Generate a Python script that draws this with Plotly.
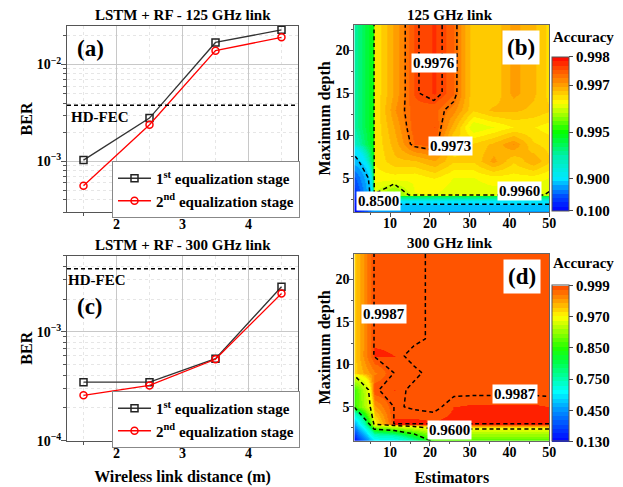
import numpy as np
import plotly.graph_objects as go

W, H = 623, 487
FONT = "Liberation Serif"

# ---------------- data: BER panels (a) and (c) ----------------
distance_m = [1.5, 2.5, 3.5, 4.5]
ber_125_stage1 = [1.03e-3, 2.80e-3, 1.69e-2, 2.28e-2]
ber_125_stage2 = [5.6e-4, 2.39e-3, 1.39e-2, 1.91e-2]
ber_300_stage1 = [3.45e-4, 3.45e-4, 5.67e-4, 2.59e-3]
ber_300_stage2 = [2.61e-4, 3.22e-4, 5.60e-4, 2.25e-3]
hd_fec = 3.8e-3
series_names = ["1<sup>st</sup> equalization stage", "2<sup>nd</sup> equalization stage"]
dist_ticks = [2, 3, 4]
ber_125_ticks = [1e-3, 1e-2]
ber_125_ticktext = ["10<sup>\u22123</sup>", "10<sup>\u22122</sup>"]
ber_300_ticks = [1e-4, 1e-3]
ber_300_ticktext = ["10<sup>\u22124</sup>", "10<sup>\u22123</sup>"]

# ---------------- data: accuracy maps (b) and (d) ----------------
estimators = [1, 6, 11, 16, 21, 26, 31, 36, 41, 46, 50]
max_depth = [1, 3, 5, 7, 9, 11, 13, 15, 17, 19, 21, 23]

acc_125 = [
    [0.100, 0.730, 0.730, 0.730, 0.730, 0.730, 0.730, 0.730, 0.730, 0.730, 0.730],
    [0.300, 0.99598, 0.99544, 0.9962, 0.9962, 0.9961, 0.9961, 0.9961, 0.9961, 0.9961, 0.99595],
    [0.500, 0.9963, 0.9963, 0.99625, 0.9964, 0.9962, 0.9962, 0.9963, 0.9963, 0.9963, 0.9962],
    [0.807, 0.9964, 0.9967, 0.99673, 0.99693, 0.9966, 0.9966, 0.9970, 0.9966, 0.9969, 0.9966],
    [0.930, 0.9964, 0.99684, 0.9974, 0.9975, 0.9965, 0.9966, 0.9968, 0.9971, 0.9966, 0.9965],
    [0.948, 0.9964, 0.99695, 0.9975, 0.99755, 0.99686, 0.99603, 0.9962, 0.9964, 0.9964, 0.9963],
    [0.948, 0.9964, 0.99708, 0.9975, 0.99745, 0.99717, 0.9966, 0.9968, 0.9968, 0.9967, 0.9966],
    [0.948, 0.9964, 0.99697, 0.99756, 0.99772, 0.99743, 0.9966, 0.9966, 0.9970, 0.9968, 0.9965],
    [0.948, 0.9964, 0.99697, 0.99756, 0.99772, 0.99743, 0.9966, 0.9966, 0.9970, 0.9968, 0.9965],
    [0.948, 0.9964, 0.99697, 0.99756, 0.99772, 0.99743, 0.9966, 0.9966, 0.9970, 0.9968, 0.9965],
    [0.948, 0.9964, 0.99697, 0.99756, 0.99772, 0.99743, 0.9966, 0.9966, 0.9970, 0.9968, 0.9965],
    [0.948, 0.9964, 0.99697, 0.99756, 0.99772, 0.99743, 0.9966, 0.9966, 0.9970, 0.9968, 0.9965],
]

acc_300 = [
    [0.130, 0.600, 0.626, 0.750, 0.870, 0.870, 0.870, 0.870, 0.870, 0.870, 0.870],
    [0.500, 0.970, 0.9991, 0.9992, 0.9991, 0.9992, 0.9992, 0.9992, 0.9992, 0.9992, 0.9992],
    [0.860, 0.985, 0.9988, 0.9986, 0.9985, 0.9990, 0.9991, 0.9991, 0.9991, 0.9991, 0.9990],
    [0.864, 0.9986, 0.9990, 0.9985, 0.9985, 0.9985, 0.9985, 0.9985, 0.9985, 0.9985, 0.9985],
    [0.977, 0.990, 0.99875, 0.9989, 0.9984, 0.9985, 0.9985, 0.9985, 0.9985, 0.9985, 0.9985],
    [0.977, 0.9991, 0.9990, 0.9984, 0.9985, 0.9985, 0.9985, 0.9985, 0.9985, 0.9985, 0.9985],
    [0.977, 0.9989, 0.9989, 0.9989, 0.99855, 0.9986, 0.9985, 0.9985, 0.9985, 0.9985, 0.9985],
    [0.977, 0.9989, 0.9989, 0.9989, 0.99855, 0.9986, 0.9985, 0.9985, 0.9985, 0.9985, 0.9985],
    [0.977, 0.9989, 0.9989, 0.9989, 0.99855, 0.9986, 0.9985, 0.9985, 0.9985, 0.9985, 0.9985],
    [0.977, 0.9989, 0.9989, 0.9989, 0.99855, 0.9986, 0.9985, 0.9985, 0.9985, 0.9985, 0.9985],
    [0.977, 0.9989, 0.9989, 0.9989, 0.99855, 0.9986, 0.9985, 0.9985, 0.9985, 0.9985, 0.9985],
    [0.977, 0.9989, 0.9989, 0.9989, 0.99855, 0.9986, 0.9985, 0.9985, 0.9985, 0.9985, 0.9985],
]

levels_125 = [0.8500, 0.9960, 0.9973, 0.9976]
levels_300 = [0.8500, 0.9600, 0.9987]
cbar_125_values = [0.100, 0.900, 0.995, 0.997, 0.998]
cbar_125_labels = ["0.100", "0.900", "0.995", "0.997", "0.998"]
cbar_300_values = [0.130, 0.450, 0.750, 0.850, 0.970, 0.999]
cbar_300_labels = ["0.130", "0.450", "0.750", "0.850", "0.970", "0.999"]
depth_ticks = [5, 10, 15, 20]
est_ticks = [10, 20, 30, 40, 50]

# contour label placements (level, estimators, depth)
labels_125 = [(0.9976, 21.0, 18.5), (0.9973, 25.2, 8.75), (0.9960, 42.4, 3.47), (0.8500, 7.1, 2.35)]
labels_300 = [(0.9987, 8.5, 15.9), (0.9987, 41.4, 6.47), (0.9600, 24.8, 2.29)]

# ---------------- styling: nonlinear colour bars ----------------
cbar_125_pos = [0.0, 0.206, 0.51, 0.815, 1.0]
cbar_300_pos = [0.0, 0.2, 0.4, 0.6, 0.8, 1.0]
pal_125 = [(0, "#0000ff"), (0.1, "#0050ff"), (0.21, "#00e8ff"), (0.35, "#00f0b0"), (0.51, "#00ff00"),
           (0.6, "#80ff00"), (0.7, "#ffff00"), (0.815, "#ffa000"), (0.92, "#ff5000"), (1.0, "#ff0000")]
pal_300 = [(0, "#0000ff"), (0.2, "#0090ff"), (0.32, "#00ffff"), (0.4, "#00ffb0"), (0.52, "#00ff40"),
           (0.6, "#20ff00"), (0.8, "#ffff00"), (0.9, "#ffa000"), (1.0, "#ff4800")]
above_300 = "#ff2000"
NB = 36


def hex2rgb(h):
    h = h.lstrip("#")
    return np.array([int(h[i:i + 2], 16) for i in (0, 2, 4)], dtype=float)


def pal_at(pal, f):
    ps = [p for p, _ in pal]
    cs = [hex2rgb(c) for _, c in pal]
    f = min(max(f, 0.0), 1.0)
    for i in range(len(ps) - 1):
        if ps[i] <= f <= ps[i + 1]:
            t = 0 if ps[i + 1] == ps[i] else (f - ps[i]) / (ps[i + 1] - ps[i])
            c = cs[i] + t * (cs[i + 1] - cs[i])
            return "rgb(%d,%d,%d)" % tuple(np.round(c))
    return "rgb(%d,%d,%d)" % tuple(cs[-1])


def frac_scale(pal):
    sc = []
    for k in range(NB):
        col = pal_at(pal, (k + 0.5) / NB)
        sc.append([k / NB, col])
        sc.append([(k + 1) / NB, col])
    return sc


def value_scale(pal, vals, pos, zmin, zmax, above=None):
    sc = []
    for k in range(NB):
        col = pal_at(pal, (k + 0.5) / NB)
        v0 = np.interp(k / NB, pos, vals)
        v1 = np.interp((k + 1) / NB, pos, vals)
        sc.append([float((v0 - zmin) / (zmax - zmin)), col])
        sc.append([float((v1 - zmin) / (zmax - zmin)), col])
    if above:
        sc.append([sc[-1][0], above])
        sc.append([1.0, above])
    sc[0][0] = 0.0
    sc[-1][0] = 1.0
    for i in range(1, len(sc)):
        sc[i][0] = min(max(sc[i][0], sc[i - 1][0]), 1.0)
    return sc


def px(x):
    return x / W


def py(y):
    return 1 - y / H


fig = go.Figure()

# ---------------- panels (a) and (c) ----------------
for (s1, s2, xa, ya, leg) in [(ber_125_stage1, ber_125_stage2, "x", "y", "legend"),
                              (ber_300_stage1, ber_300_stage2, "x3", "y3", "legend2")]:
    fig.add_trace(go.Scatter(x=distance_m, y=s1, mode="lines+markers", name=series_names[0],
                             xaxis=xa, yaxis=ya, legend=leg,
                             line=dict(color="#333333", width=1.3),
                             marker=dict(symbol="square-open", size=7, color="#222222", line=dict(width=1.5))))
    fig.add_trace(go.Scatter(x=distance_m, y=s2, mode="lines+markers", name=series_names[1],
                             xaxis=xa, yaxis=ya, legend=leg,
                             line=dict(color="#ff0000", width=1.3),
                             marker=dict(symbol="circle-open", size=7, color="#ff0000", line=dict(width=1.5))))

dist_range = [1.25, 4.75]
for xa, ya in [("x", "y"), ("x3", "y3")]:
    fig.add_trace(go.Scatter(x=dist_range, y=[hd_fec, hd_fec], mode="lines", xaxis=xa, yaxis=ya,
                             showlegend=False, hoverinfo="skip",
                             line=dict(color="black", width=1.5, dash="4px,3px")))

# ---------------- panels (b) and (d) ----------------
for (acc, levels, vals, pos, pal, above, xa, ya, cb_labels, cb_y0, cb_y1) in [
        (acc_125, levels_125, cbar_125_values, cbar_125_pos, pal_125, None, "x2", "y2", cbar_125_labels, 56.7, 210.5),
        (acc_300, levels_300, cbar_300_values, cbar_300_pos, pal_300, above_300, "x4", "y4", cbar_300_labels, 285.5, 441.5)]:
    zmin = vals[0]
    zmax = vals[-1] + (0.0005 if above else 0.0)
    fig.add_trace(go.Heatmap(x=estimators, y=max_depth, z=acc, xaxis=xa, yaxis=ya,
                             zsmooth="best", zmin=zmin, zmax=zmax,
                             colorscale=value_scale(pal, vals, pos, zmin, zmax, above),
                             showscale=False, hoverinfo="skip"))
    for L in levels:
        fig.add_trace(go.Contour(x=estimators, y=max_depth, z=acc, xaxis=xa, yaxis=ya,
                                 autocontour=False,
                                 contours=dict(start=L, end=L, size=1, coloring="none", showlabels=False),
                                 line=dict(color="black", width=1.5, dash="4px,3px", smoothing=0),
                                 showscale=False, hoverinfo="skip", showlegend=False))
    fig.add_trace(go.Scatter(x=[None], y=[None], mode="markers", xaxis=xa, yaxis=ya, showlegend=False,
                             hoverinfo="skip",
                             marker=dict(color=[0.5], cmin=0, cmax=1, colorscale=frac_scale(pal), showscale=True,
                                         colorbar=dict(x=px(552), xanchor="left", y=py((cb_y0 + cb_y1) / 2),
                                                       yanchor="middle", len=(cb_y1 - cb_y0) / H, lenmode="fraction",
                                                       thickness=17, thicknessmode="pixels",
                                                       tickvals=pos, ticktext=cb_labels, ticks="outside",
                                                       ticklen=4, tickcolor="#444", outlinewidth=1,
                                                       outlinecolor="#555", xpad=0, ypad=0,
                                                       tickfont=dict(family=FONT, size=15, color="black",
                                                                     weight="bold")))))

# ---------------- axes ----------------
tickfont = dict(family=FONT, size=14, color="black", weight="bold")
titlefont = dict(family=FONT, size=16, color="black", weight="bold")
dx0, dx1 = px(67), px(298)
hx0, hx1 = px(354.3), px(549.3)

common_ber_x = dict(range=dist_range, tickvals=dist_ticks, showline=True, mirror=True, linecolor="#555",
                    linewidth=1, ticks="outside", ticklen=5, tickcolor="#555", tickfont=tickfont,
                    ticklabelstandoff=-6,
                    showgrid=True, gridcolor="#c8c8c8", gridwidth=1, zeroline=False,
                    minor=dict(dtick=0.5, ticks="outside", ticklen=3, tickcolor="#555", showgrid=True,
                               gridcolor="#e6e6e6", griddash="dot"))
common_ber_y = dict(type="log", showline=True, mirror=True, linecolor="#555", linewidth=1, ticks="outside",
                    ticklen=5, tickcolor="#555", tickfont=tickfont, showgrid=True, gridcolor="#c8c8c8",
                    zeroline=False, ticklabelstandoff=-3,
                    minor=dict(dtick="D1", ticks="outside", ticklen=3, tickcolor="#555", showgrid=True,
                               gridcolor="#e6e6e6", griddash="dot"),
                    title=dict(text="BER", font=titlefont, standoff=0))
common_map_x = dict(range=[1, 50], tickvals=est_ticks, showline=True, mirror=True, linecolor="#666",
                    linewidth=1, ticks="outside", ticklen=4, tickcolor="#555", tickfont=tickfont,
                    ticklabelstandoff=-6,
                    showgrid=False, zeroline=False,
                    minor=dict(dtick=5, ticks="outside", ticklen=2, tickcolor="#555"))
common_map_y = dict(range=[1, 23], tickvals=depth_ticks, showline=True, mirror=True, linecolor="#666",
                    linewidth=1, ticks="outside", ticklen=4, tickcolor="#555", tickfont=tickfont,
                    showgrid=False, zeroline=False, ticklabelstandoff=-3,
                    minor=dict(dtick=2.5, ticks="outside", ticklen=2, tickcolor="#555"),
                    title=dict(text="Maximum depth", font=titlefont, standoff=0))

fig.update_layout(
    xaxis=dict(domain=[dx0, dx1], anchor="y", **common_ber_x),
    yaxis=dict(domain=[py(212), py(26)], anchor="x", range=[np.log10(3e-4), np.log10(2.5e-2)],
               tickvals=ber_125_ticks, ticktext=ber_125_ticktext, **common_ber_y),
    xaxis3=dict(domain=[dx0, dx1], anchor="y3",
                title=dict(text="Wireless link distance (m)", font=titlefont, standoff=11), **common_ber_x),
    yaxis3=dict(domain=[py(440.7), py(255.7)], anchor="x3", range=[-4, np.log10(5e-3)],
                tickvals=ber_300_ticks, ticktext=ber_300_ticktext, **common_ber_y),
    xaxis2=dict(domain=[hx0, hx1], anchor="y2", **common_map_x),
    yaxis2=dict(domain=[py(212), py(25)], anchor="x2", **common_map_y),
    xaxis4=dict(domain=[hx0, hx1], anchor="y4",
                title=dict(text="Estimators", font=titlefont, standoff=13), **common_map_x),
    yaxis4=dict(domain=[py(440.7), py(254)], anchor="x4", **common_map_y),
)

legend_style = dict(bgcolor="white", bordercolor="#888", borderwidth=1, xanchor="left", yanchor="top",
                    font=dict(family=FONT, size=15, color="black", weight="bold"),
                    itemwidth=33, tracegroupgap=0)
fig.update_layout(legend=dict(x=px(112), y=py(161), **legend_style),
                  legend2=dict(x=px(112), y=py(391), **legend_style))

# ---------------- annotations ----------------
ann = []
bold = dict(family=FONT, color="black", weight="bold")


def text(x, y, s, size, **kw):
    ann.append(dict(x=px(x), y=py(y), xref="paper", yref="paper", text=s, showarrow=False,
                    xanchor="center", yanchor="middle", font=dict(size=size, **bold), **kw))


text(183, 15, "LSTM + RF - 125 GHz link", 15)
text(183, 245, "LSTM + RF - 300 GHz link", 15)
text(450, 15, "125 GHz link", 15)
text(450, 243, "300 GHz link", 15)
text(90, 49, "(a)", 23)
text(90, 306.7, "(c)", 23)
text(521, 47.5, "(b)", 23, bgcolor="white", borderpad=4)
text(521.7, 276.7, "(d)", 23, bgcolor="white", borderpad=4)
text(100, 117.3, "HD-FEC", 15)
text(96.7, 280, "HD-FEC", 15)
text(583, 36.7, "Accuracy", 15)
text(583, 262.7, "Accuracy", 15)

for labs, xa, ya in [(labels_125, "x2", "y2"), (labels_300, "x4", "y4")]:
    for lev, ex, dp in labs:
        ann.append(dict(x=ex, y=dp, xref=xa, yref=ya, text="%.4f" % lev, showarrow=False,
                        xanchor="center", yanchor="middle",
                        bgcolor="white", borderpad=1, font=dict(size=15, **bold)))

fig.update_layout(annotations=ann, width=W, height=H, autosize=False,
                  margin=dict(l=0, r=0, t=0, b=0, autoexpand=False), paper_bgcolor="white",
                  plot_bgcolor="white", font=dict(family=FONT, color="black"))

fig.write_html("out.html", config={"displayModeBar": False},
               post_script="document.body.style.margin='0px';document.body.style.overflow='hidden';")
